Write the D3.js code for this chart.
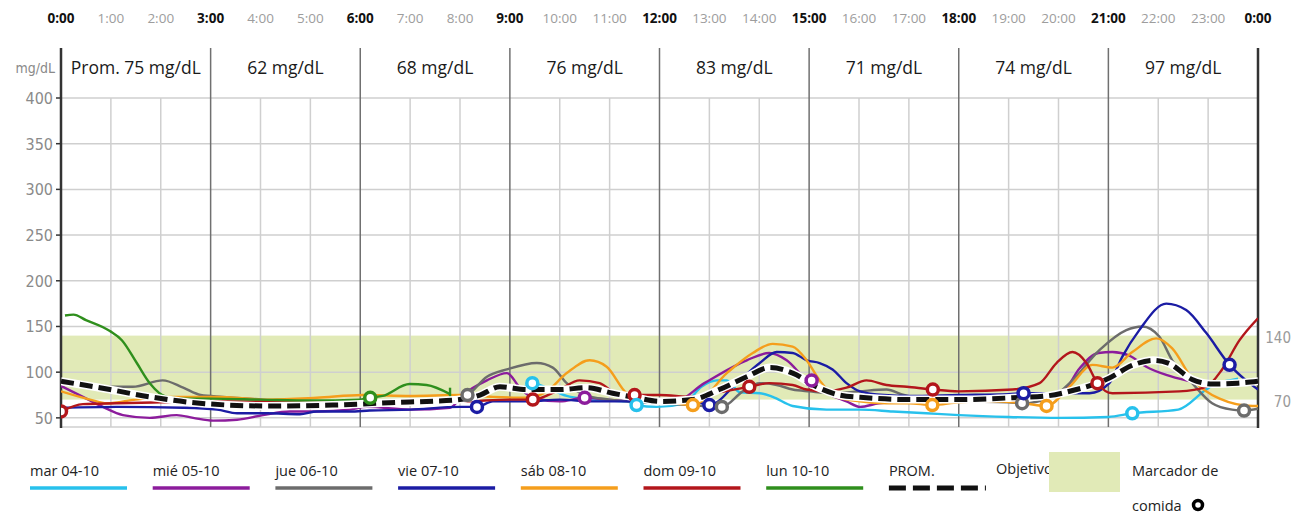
<!DOCTYPE html>
<html><head><meta charset="utf-8">
<script src="https://cdn.jsdelivr.net/npm/d3@7"></script>
<style>body{margin:0;background:#fff}svg{display:block}</style>
</head><body><svg id="c" width="1294" height="517"></svg>
<script>
// ---------- DATA ----------
const hourLabels = ["0:00","1:00","2:00","3:00","4:00","5:00","6:00","7:00","8:00","9:00","10:00","11:00","12:00","13:00","14:00","15:00","16:00","17:00","18:00","19:00","20:00","21:00","22:00","23:00","0:00"];
const blockAverages = [75, 62, 68, 76, 83, 71, 74, 97];
const yTicks = [50, 100, 150, 200, 250, 300, 350, 400];
const targetRange = [70, 140];
const rightLabels = [140, 70];

const seriesNames = ["mar 04-10","mié 05-10","jue 06-10","vie 07-10","sáb 08-10","dom 09-10","lun 10-10"];
const seriesColors = ["#27c1ec","#8c1c9c","#6c6c6c","#1b1ca4","#f59e1c","#b3161b","#2f8f1d"];

const marData = [[9.3,84],[9.45,88],[9.74,83],[10.14,74],[10.66,70],[11.34,68],[11.54,64],[11.94,62],[12.5,66],[12.84,84],[13.15,91],[13.35,91],[13.61,78],[14.01,77],[14.27,73],[14.67,63],[15.35,59],[16.02,59],[16.68,57],[17.35,55],[18.01,53],[19.0,51],[20.0,50],[21.0,51],[21.48,55],[22.4,59],[22.96,81],[23.16,88],[23.43,91],[23.6,93]];
const mieData = [[0,85],[0.44,73],[0.84,62],[1.24,53],[1.78,50],[2.32,53],[2.65,50],[3.05,47],[3.53,48],[4.05,53],[4.59,57],[5.13,57],[5.79,59],[6.13,62],[7.0,59],[7.8,61],[8.06,75],[8.54,91],[8.94,99],[9.2,83],[9.46,72],[10.0,68],[10.5,72],[10.94,70],[11.66,68],[12.3,68],[12.9,88],[13.75,113],[14.2,121],[14.55,113],[14.95,91],[15.35,77],[15.75,68],[16.02,62],[16.4,66],[17.0,68],[18,68],[19,68],[20.1,80],[20.42,104],[20.8,121],[21.08,122],[21.42,118],[21.76,106],[22.16,97],[22.56,91],[22.83,88],[23.0,86]];
const jueData = [[0,88],[0.78,84],[1.44,84],[2.04,91],[2.45,83],[2.8,75],[3.25,73],[4.05,70],[5,68],[6,67],[7,66],[7.7,68],[8.15,75],[8.54,95],[8.94,103],[9.54,110],[9.86,105],[10.14,88],[10.5,75],[11,70],[12,66],[12.6,64],[13.25,62],[13.67,79],[14.01,88],[14.35,86],[14.67,81],[15.01,79],[15.47,77],[16.0,79],[16.55,81],[16.9,75],[17.5,70],[18,68],[19,67],[19.27,66],[19.88,73],[20.28,91],[20.82,124],[21.36,146],[21.68,150],[22.02,139],[22.28,113],[22.68,88],[23.08,66],[23.48,59],[23.72,58],[24,60]];
const vieData = [[0,61],[1.12,62],[2.45,61],[3.13,59],[3.53,55],[4.13,55],[4.79,54],[5.13,57],[5.79,57],[6.19,58],[7.0,59],[8.0,62],[8.34,62],[8.66,68],[9.34,68],[10.0,70],[10.66,68],[11.34,68],[12.0,70],[12.7,68],[13.0,64],[13.55,88],[14.01,110],[14.35,122],[14.67,121],[14.95,113],[15.21,110],[15.47,103],[15.75,88],[16.02,79],[16.5,75],[17,74],[18,75],[19,76],[19.3,77],[20.62,77],[21.02,88],[21.28,117],[21.62,146],[22.16,175],[22.56,168],[22.96,143],[23.43,108],[23.76,91],[24,81]];
const sabData = [[0,79],[0.58,70],[0.92,66],[1.5,70],[2.18,73],[3.13,73],[4.13,70],[5.13,72],[6.05,75],[7,74],[8.0,75],[8.66,73],[9.34,72],[9.74,79],[10.14,99],[10.6,113],[10.94,106],[11.34,77],[11.66,70],[12.2,67],[12.67,64],[13.35,99],[13.87,121],[14.27,131],[14.67,128],[14.95,113],[15.21,91],[15.55,73],[16.01,68],[16.55,66],[17.0,66],[17.47,64],[18.0,67],[18.6,68],[19.3,66],[19.76,63],[20.22,84],[20.68,108],[21.08,105],[21.48,122],[21.96,137],[22.28,126],[22.69,92],[23.23,71],[23.89,63],[24,63]];
const domData = [[0,57],[0.44,65],[1.12,66],[2.0,67],[3,68],[4,68],[5,68],[6,68],[7,68],[8,68],[9.0,70],[9.46,70],[10.0,81],[10.4,91],[10.8,88],[11.2,75],[11.5,75],[12,75],[12.66,73],[13.2,78],[13.8,84],[14.2,88],[14.67,86],[14.95,81],[15.35,79],[15.75,83],[16.15,91],[16.55,86],[16.96,84],[17.48,81],[18,79],[19.08,81],[19.62,88],[19.96,110],[20.28,122],[20.56,110],[20.78,88],[21.08,77],[22.42,79],[22.96,84],[23.28,103],[23.63,135],[24,159]];
const lunData = [[0.08,162],[0.25,163],[0.5,157],[0.98,145],[1.22,135],[1.52,110],[1.78,88],[2.12,73],[2.5,71],[3.0,71],[4,70],[5,69],[6.0,70],[6.2,72],[6.45,74],[6.99,87],[7.33,86],[7.8,76]];
const lunEndTick = [73, 83];
const promData = [[0,90],[0.78,83],[1.78,73],[2.78,66],[4.13,63],[5.45,64],[6.8,67],[7.33,68],[8.0,70],[8.4,75],[8.8,84],[9.34,81],[10.0,81],[10.54,83],[11.06,77],[11.54,72],[12.0,68],[12.66,70],[13.2,81],[13.75,95],[14.21,105],[14.67,99],[15.15,84],[15.61,75],[16.15,72],[17.01,70],[18.0,70],[19.08,72],[19.76,74],[20.36,81],[20.68,86],[21.0,93],[21.5,108],[21.9,113],[22.2,110],[22.68,92],[23.1,87],[23.6,88],[24,90]];

// meal markers: [series index, hour, value]
const mealMarkers = [[5,0.0,57],[6,6.2,72],[2,8.15,75],[3,8.34,62],[0,9.45,88],[5,9.46,70],[1,10.5,72],[5,11.5,75],[0,11.54,64],[4,12.67,64],[3,13.0,64],[2,13.25,62],[5,13.8,84],[1,15.05,91],[4,17.47,64],[5,17.48,81],[2,19.27,66],[3,19.3,77],[4,19.76,63],[5,20.78,88],[0,21.48,55],[3,23.43,108],[2,23.72,58]];

const allSeries = [marData, mieData, jueData, vieData, sabData, domData, lunData];

// ---------- DRAW ----------
const svg = d3.select("#c");
const W = 1294;
const headerTop = 48;
const x = d3.scaleLinear().domain([0, 24]).range([61, 1258]);
const y = d3.scaleLinear().domain([40, 400]).range([427, 98]);
const bandColor = "#e1eab7";
const narrow = "'Liberation Sans Narrow','DejaVu Sans Condensed','Open Sans',sans-serif";
const sans = "'Open Sans','Liberation Sans',sans-serif";

svg.append("rect").attr("width", W).attr("height", 517).attr("fill", "#fff");

// target band
svg.append("rect")
  .attr("x", x(0)).attr("width", x(24) - x(0))
  .attr("y", y(targetRange[1])).attr("height", y(targetRange[0]) - y(targetRange[1]))
  .attr("fill", bandColor);

// horizontal grid
svg.append("g").selectAll("line").data(yTicks).join("line")
  .attr("x1", x(0)).attr("x2", x(24))
  .attr("y1", d => y(d)).attr("y2", d => y(d))
  .attr("stroke", "#cfcfcf").attr("stroke-width", 1.5);
svg.append("line").attr("x1", x(0)).attr("x2", x(24)).attr("y1", y(40)).attr("y2", y(40))
  .attr("stroke", "#cfcfcf").attr("stroke-width", 1.5);

// hourly light grid
const hrs = d3.range(1, 24).filter(h => h % 3 !== 0);
svg.append("g").selectAll("line").data(hrs).join("line")
  .attr("x1", d => x(d)).attr("x2", d => x(d))
  .attr("y1", y(400)).attr("y2", y(40))
  .attr("stroke", "#cfcfcf").attr("stroke-width", 1.5);

// 3h dividers
svg.append("g").selectAll("line").data([3,6,9,12,15,18,21]).join("line")
  .attr("x1", d => x(d)).attr("x2", d => x(d))
  .attr("y1", headerTop).attr("y2", y(40))
  .attr("stroke", "#707070").attr("stroke-width", 1.5);

// axes borders
[0, 24].forEach(h => {
  svg.append("line").attr("x1", x(h)).attr("x2", x(h)).attr("y1", headerTop).attr("y2", y(40) + 1)
    .attr("stroke", "#333").attr("stroke-width", 2.5);
});

// left ticks & labels
svg.append("g").selectAll("line").data(yTicks).join("line")
  .attr("x1", x(0) - 5).attr("x2", x(0)).attr("y1", d => y(d)).attr("y2", d => y(d))
  .attr("stroke", "#333").attr("stroke-width", 1.5);
svg.append("g").selectAll("text").data(yTicks).join("text")
  .attr("x", x(0) - 8).attr("y", d => y(d) + 6)
  .attr("text-anchor", "end").attr("font-family", narrow).attr("font-size", 16)
  .attr("fill", "#8a8a8a").text(d => d);
svg.append("text").attr("x", x(0) - 6).attr("y", 73).attr("text-anchor", "end")
  .attr("font-family", narrow).attr("font-size", 14).attr("fill", "#8a8a8a").text("mg/dL");

// right labels
svg.append("g").selectAll("text").data(rightLabels).join("text")
  .attr("x", W - 3).attr("y", d => y(d) + 7).attr("text-anchor", "end")
  .attr("font-family", narrow).attr("font-size", 15).attr("fill", "#9a9a9a").text(d => d);

// hour labels
svg.append("g").selectAll("text").data(hourLabels).join("text")
  .attr("x", (d, i) => x(i)).attr("y", 23).attr("text-anchor", "middle")
  .attr("font-family", sans).attr("font-size", 13.5)
  .attr("font-weight", (d, i) => i % 3 === 0 ? 700 : 400)
  .attr("fill", (d, i) => i % 3 === 0 ? "#111" : "#9d9d9d")
  .text(d => d);

// block averages
svg.append("g").selectAll("text").data(blockAverages).join("text")
  .attr("x", (d, i) => x(i * 3 + 1.5)).attr("y", 74).attr("text-anchor", "middle")
  .attr("font-family", sans).attr("font-size", 17.5).attr("fill", "#1a1a1a")
  .text((d, i) => (i === 0 ? "Prom. " : "") + d + " mg/dL");

// clip
svg.append("clipPath").attr("id", "clip").append("rect")
  .attr("x", x(0)).attr("y", headerTop).attr("width", x(24) - x(0)).attr("height", y(40) - headerTop);

const plot = svg.append("g").attr("clip-path", "url(#clip)");
const line = d3.line().x(d => x(d[0])).y(d => y(d[1])).curve(d3.curveMonotoneX);

allSeries.forEach((s, i) => {
  plot.append("path").datum(s).attr("d", line).attr("fill", "none")
    .attr("stroke", seriesColors[i]).attr("stroke-width", 2.4).attr("stroke-linejoin", "round");
});
// lun end tick
const lunLast = lunData[lunData.length - 1];
plot.append("line").attr("x1", x(lunLast[0])).attr("x2", x(lunLast[0]))
  .attr("y1", y(lunEndTick[0])).attr("y2", y(lunEndTick[1]))
  .attr("stroke", seriesColors[6]).attr("stroke-width", 2.4);

// average dashed
plot.append("path").datum(promData).attr("d", line).attr("fill", "none")
  .attr("stroke", "#fff").attr("stroke-width", 8);
plot.append("path").datum(promData).attr("d", line).attr("fill", "none")
  .attr("stroke", "#111").attr("stroke-width", 5).attr("stroke-dasharray", "13,6");

// meal markers
plot.append("g").selectAll("circle").data(mealMarkers).join("circle")
  .attr("cx", d => x(d[1])).attr("cy", d => y(d[2])).attr("r", 5.5)
  .attr("fill", "#fff").attr("stroke", d => seriesColors[d[0]]).attr("stroke-width", 3.5);

// ---------- LEGEND ----------
const legY = 476, legLineY = 488, legStep = 122.7, legX0 = 30, legLen = 97;
const leg = svg.append("g").attr("font-family", sans).attr("font-size", 14.5).attr("fill", "#222");
seriesNames.forEach((n, i) => {
  const lx = legX0 + i * legStep;
  leg.append("text").attr("x", lx).attr("y", legY).text(n);
  leg.append("line").attr("x1", lx).attr("x2", lx + legLen).attr("y1", legLineY).attr("y2", legLineY)
    .attr("stroke", seriesColors[i]).attr("stroke-width", 3.5);
});
const px = legX0 + 7 * legStep;
leg.append("text").attr("x", px).attr("y", legY).text("PROM.");
leg.append("line").attr("x1", px).attr("x2", px + legLen).attr("y1", legLineY).attr("y2", legLineY)
  .attr("stroke", "#111").attr("stroke-width", 5).attr("stroke-dasharray", "17,7");
leg.append("text").attr("x", 996).attr("y", 474).text("Objetivo");
leg.append("rect").attr("x", 1049).attr("y", 452).attr("width", 71).attr("height", 40).attr("fill", bandColor);
leg.append("text").attr("x", 1132).attr("y", 476).text("Marcador de");
leg.append("text").attr("x", 1132).attr("y", 511).text("comida");
leg.append("circle").attr("cx", 1198).attr("cy", 505).attr("r", 4.5).attr("fill", "#fff")
  .attr("stroke", "#000").attr("stroke-width", 3.5);
</script></body></html>
